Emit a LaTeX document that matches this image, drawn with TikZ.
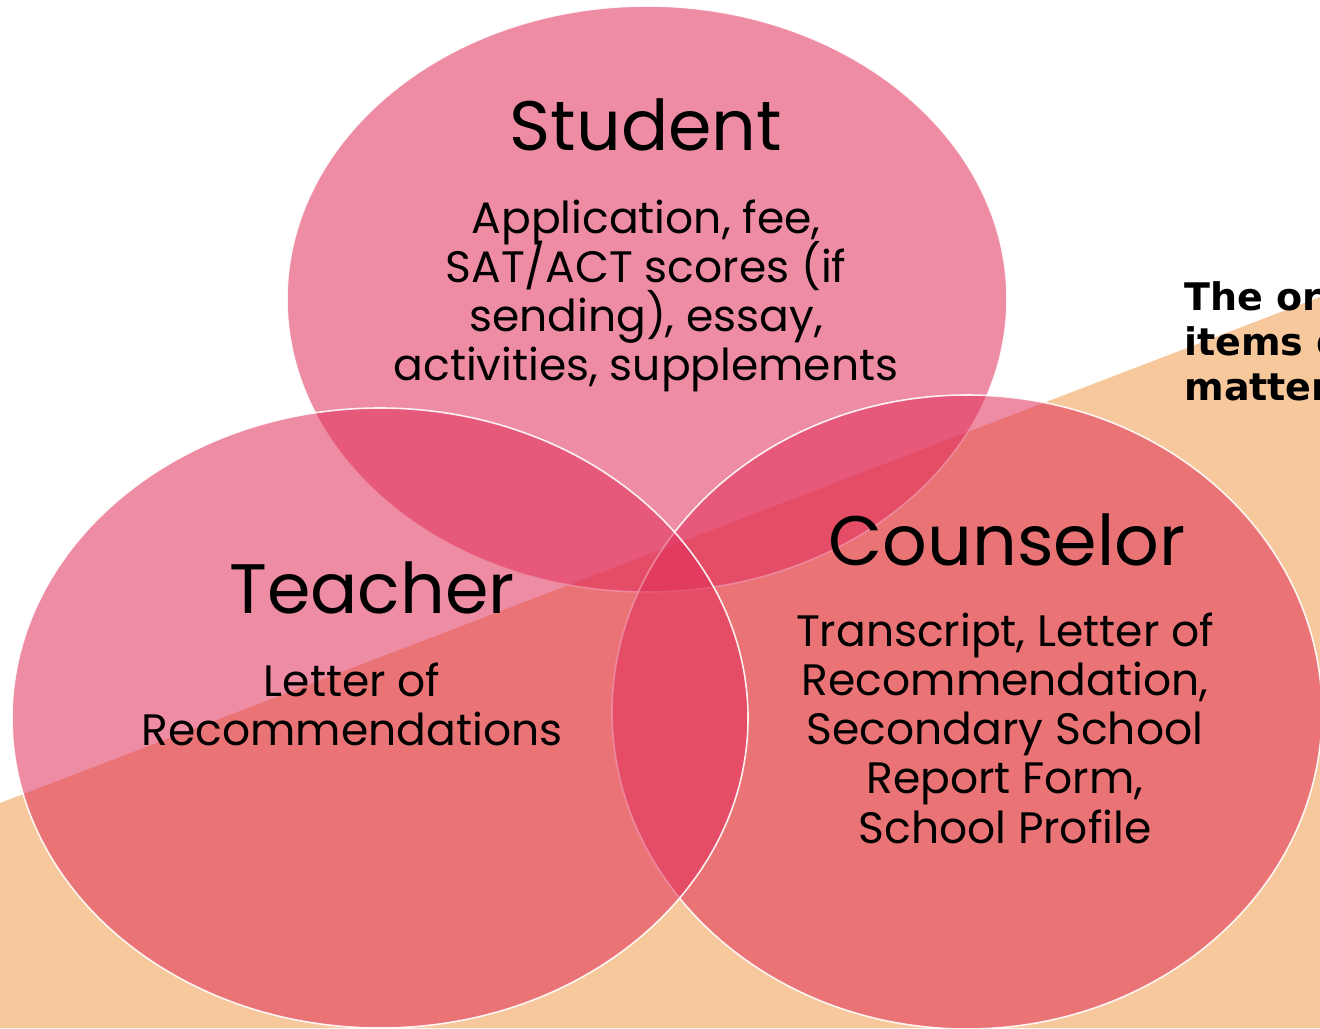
\documentclass[tikz,border=0pt]{standalone}
\usepackage{fontspec}
\setmainfont{Poppins}
\newfontfamily\notefont{DejaVu Sans}
\definecolor{peach}{RGB}{247,200,155}
\definecolor{rosefill}{RGB}{224,46,88}
\newcommand\bodyfont{\fontsize{22}{24.6}\selectfont\lineskiplimit-30pt\relax}
\begin{document}
\begin{tikzpicture}[x=0.5pt,y=-0.5pt, line join=round, line cap=round,
    bubble/.style={fill=rosefill,fill opacity=0.55,draw=white,draw opacity=0.9,line width=0.8pt},
    title/.style={inner sep=0pt,font=\fontsize{35}{40}\selectfont},
    body/.style={inner sep=0pt,align=center,font=\bodyfont}]
    \useasboundingbox (0,0) rectangle (1320,1028);
    \clip (0,0) rectangle (1320,1028);
    % background wedge
    \fill[peach] (0,803) -- (1320,297) -- (1320,1028) -- (0,1028) -- cycle;
    \node[anchor=north west,inner sep=0pt,align=left,
        font=\notefont\bfseries\fontsize{19}{22.5}\selectfont] (note) at (1184,281)
        {The order\\items does\\matter};
    % three overlapping bubbles
    \def\sx{647} \def\sy{299} \def\tx{380} \def\ty{718} \def\cx{967} \def\cy{712}
    \draw[bubble] (\sx,\sy) ellipse [x radius=360, y radius=293];
    \draw[bubble] (\cx,\cy) ellipse [x radius=355, y radius=317];
    \draw[bubble] (\tx,\ty) ellipse [x radius=368, y radius=310];
    % labels
    \node[title] (student) at (646,125) {Student};
    \node[body] (studentitems) at (646,296)
        {Application, fee,\\SAT/ACT scores (if\\sending), essay,\\activities, supplements};
    \node[title] (teacher) at (372,588) {Teacher};
    \node[body] (teacheritems) at (352,704) {Letter of\\Recommendations};
    \node[title] (counselor) at (1007,540) {Counselor};
    \node[body] (counseloritems) at (1005,728)
        {Transcript, Letter of\\Recommendation,\\Secondary School\\Report Form,\\School Profile};
\end{tikzpicture}
\end{document}
